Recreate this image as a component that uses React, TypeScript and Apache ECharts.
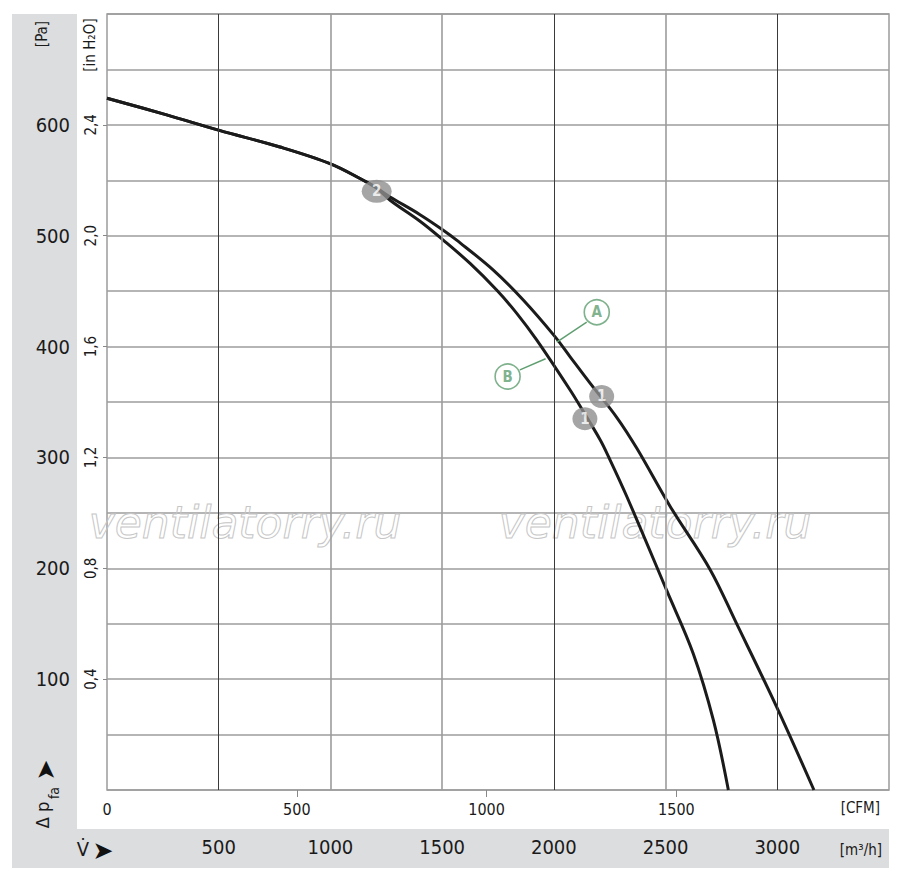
import { useEffect, useRef } from "react";
import * as echarts from "echarts";

const FONT = "'Liberation Sans Narrow','Arial Narrow','DejaVu Sans Condensed','Liberation Sans',Arial,sans-serif";
const GREEN = "#5f9e70";
const GRID_GRAY = "#9c9c9c";
const TEXT = "#1a1a1a";

// Axis ranges (x in m3/h, y in Pa)
const flowMaxM3h = 3500;
const cfmPerM3h = 1 / 1.699;
const paMax = 700;
const inH2OMax = 2.8;

// Tick labels
const m3hLabels = [500, 1000, 1500, 2000, 2500, 3000];
const cfmLabels = [0, 500, 1000, 1500];
const cfmTicks = [500, 1000, 1500];
const paLabels = [100, 200, 300, 400, 500, 600];
const inH2OLabels = [0.4, 0.8, 1.2, 1.6, 2.0, 2.4];

// Vertical grid lines (m3/h)
const darkGridLines = [500, 2000, 3000];
const lightGridLines = [1000, 1500, 2500];

// Curves [m3/h, Pa]
const commonCurve = [
  [0, 624], [267, 609], [503, 595], [774, 580], [998, 565], [1147, 550], [1207, 543],
];
const curveA = [
  [1267, 535], [1401, 519], [1505, 505], [1565, 496], [1729, 469], [1863, 442],
  [2005, 409], [2072, 391], [2162, 367], [2282, 336], [2372, 308], [2520, 256],
  [2699, 199], [2818, 150], [2997, 75], [3164, 0],
];
const curveB = [
  [1267, 532], [1401, 513], [1505, 496], [1625, 475], [1744, 451], [1834, 430],
  [1923, 406], [2072, 361], [2130, 342], [2207, 316], [2244, 301], [2326, 265],
  [2505, 180], [2624, 123], [2714, 63], [2781, 0],
];

// Operating point markers
const pointNames = ["2", "1", "1"];
const pointValues = [[1207, 540], [2214, 355], [2139, 335]];

// Curve tags A / B
const tagNames = ["A", "B"];
const tagValues = [[2192, 431], [1793, 373]];
const tagLeaders = [
  [[2147, 422], [2013, 404]],
  [[1848, 379], [1963, 389]],
];

export default function App() {
  const ref = useRef<HTMLDivElement>(null);

  useEffect(() => {
    if (!ref.current) return;
    const chart = echarts.init(ref.current, null, { renderer: "svg" });

    const rot = Math.PI / 2;
    const option: any = {
      animation: false,
      backgroundColor: "#ffffff",
      grid: {
        left: 107,
        top: 14,
        width: 782,
        height: 776,
        show: true,
        borderColor: GRID_GRAY,
        borderWidth: 1.5,
        backgroundColor: "transparent",
      },
      xAxis: [
        {
          type: "value",
          min: 0,
          max: flowMaxM3h,
          interval: 500,
          position: "bottom",
          axisLine: { show: false },
          axisTick: { show: false },
          splitLine: { show: false },
          axisLabel: {
            margin: 47,
            fontSize: 20,
            color: TEXT,
            fontFamily: FONT,
            customValues: m3hLabels,
            formatter: (v: number) => (m3hLabels.includes(v) ? String(v) : ""),
          },
        },
        {
          type: "value",
          min: 0,
          max: flowMaxM3h * cfmPerM3h,
          interval: 500,
          position: "bottom",
          axisLine: { show: false },
          axisTick: {
            show: true,
            length: 7,
            customValues: cfmTicks,
            lineStyle: { color: "#888", width: 1 },
          },
          splitLine: { show: false },
          axisLabel: {
            margin: 11,
            fontSize: 16,
            color: TEXT,
            fontFamily: FONT,
            customValues: cfmLabels,
            formatter: (v: number) => (cfmLabels.includes(v) ? String(v) : ""),
          },
        },
      ],
      yAxis: [
        {
          type: "value",
          min: 0,
          max: paMax,
          interval: 50,
          position: "left",
          axisLine: { show: false },
          axisTick: { show: false },
          splitLine: { show: true, lineStyle: { color: GRID_GRAY, width: 1.6 } },
          axisLabel: {
            margin: 37,
            fontSize: 20,
            color: TEXT,
            fontFamily: FONT,
            padding: [5, 0, 0, 0],
            formatter: (v: number) => (paLabels.includes(v) ? String(v) : ""),
          },
        },
        {
          type: "value",
          min: 0,
          max: inH2OMax,
          interval: 0.4,
          position: "left",
          axisLine: { show: false },
          axisTick: {
            show: true,
            length: 4,
            customValues: inH2OLabels,
            lineStyle: { color: "#888", width: 1 },
          },
          splitLine: { show: false },
          axisLabel: {
            rotate: 90,
            margin: 9,
            fontSize: 15,
            color: TEXT,
            fontFamily: FONT,
            customValues: inH2OLabels,
            formatter: (v: number) => {
              const s = v.toFixed(1);
              return inH2OLabels.some((t) => t.toFixed(1) === s) ? s.replace(".", ",") : "";
            },
          },
        },
      ],
      graphic: [
        { type: "rect", z: 0, shape: { x: 12, y: 14, width: 65, height: 815 }, style: { fill: "#dcdddf" } },
        { type: "rect", z: 0, shape: { x: 12, y: 829, width: 877, height: 39 }, style: { fill: "#dcdddf" } },
        {
          type: "text", x: 245, y: 522, z: 1,
          style: { text: "ventilatorry.ru", font: "italic 44px 'DejaVu Sans'", fill: "none", stroke: "#c6c6c6", lineWidth: 1, textAlign: "center", textVerticalAlign: "middle" },
        },
        {
          type: "text", x: 655, y: 522, z: 1,
          style: { text: "ventilatorry.ru", font: "italic 44px 'DejaVu Sans'", fill: "none", stroke: "#c6c6c6", lineWidth: 1, textAlign: "center", textVerticalAlign: "middle" },
        },
        {
          type: "text", x: 42, y: 34, rotation: rot, z: 5,
          style: { text: "[Pa]", font: `15px ${FONT}`, fill: TEXT, textAlign: "center", textVerticalAlign: "middle" },
        },
        {
          type: "text", x: 90, y: 45, rotation: rot, z: 5,
          style: { text: "[in H₂O]", font: `15px ${FONT}`, fill: TEXT, textAlign: "center", textVerticalAlign: "middle" },
        },
        {
          type: "text", x: 42, y: 815, rotation: rot, z: 5,
          style: { text: "Δ p", font: `18px ${FONT}`, fill: TEXT, textAlign: "center", textVerticalAlign: "middle" },
        },
        {
          type: "text", x: 54, y: 793, rotation: rot, z: 5,
          style: { text: "fa", font: `14px ${FONT}`, fill: TEXT, textAlign: "center", textVerticalAlign: "middle" },
        },
        {
          type: "text", x: 45, y: 770, rotation: rot, z: 5,
          style: { text: "➤", font: "25px 'DejaVu Sans'", fill: "#111", textAlign: "center", textVerticalAlign: "middle" },
        },
        {
          type: "text", x: 83, y: 849, z: 5,
          style: { text: "V̇", font: `20px ${FONT}`, fill: TEXT, textAlign: "center", textVerticalAlign: "middle" },
        },
        {
          type: "text", x: 103, y: 850, z: 5,
          style: { text: "➤", font: "25px 'DejaVu Sans'", fill: "#111", textAlign: "center", textVerticalAlign: "middle" },
        },
        {
          type: "text", x: 880, y: 808, z: 5,
          style: { text: "[CFM]", font: `15px ${FONT}`, fill: TEXT, textAlign: "right", textVerticalAlign: "middle" },
        },
        {
          type: "text", x: 882, y: 850, z: 5,
          style: { text: "[m³/h]", font: `15px ${FONT}`, fill: TEXT, textAlign: "right", textVerticalAlign: "middle" },
        },
      ],
      series: [
        {
          type: "line",
          data: [],
          xAxisIndex: 0,
          yAxisIndex: 0,
          z: 1,
          silent: true,
          markLine: {
            silent: true,
            symbol: ["none", "none"],
            label: { show: false },
            data: [
              ...darkGridLines.map((v) => ({ xAxis: v, lineStyle: { color: "#3a3a3a", width: 1, type: "solid" } })),
              ...lightGridLines.map((v) => ({ xAxis: v, lineStyle: { color: GRID_GRAY, width: 1.6, type: "solid" } })),
            ],
          },
        },
        {
          type: "line",
          name: "A",
          xAxisIndex: 0,
          yAxisIndex: 0,
          data: commonCurve.concat(curveA),
          smooth: 0.35,
          symbol: "none",
          lineStyle: { color: "#1b1b1b", width: 3 },
          z: 3,
        },
        {
          type: "line",
          name: "B",
          xAxisIndex: 0,
          yAxisIndex: 0,
          data: commonCurve.concat(curveB),
          smooth: 0.35,
          symbol: "none",
          lineStyle: { color: "#1b1b1b", width: 3 },
          z: 3,
        },
        {
          type: "scatter",
          xAxisIndex: 0,
          yAxisIndex: 0,
          z: 5,
          symbol: "circle",
          data: pointNames.map((n, i) => ({
            name: n,
            value: pointValues[i],
            symbolSize: n === "2" ? [30, 23] : [25, 23],
          })),
          itemStyle: { color: "#8e8e8e" },
          label: {
            show: true,
            position: "inside",
            formatter: "{b}",
            color: "#fff",
            fontWeight: "bold",
            fontSize: 15,
            fontFamily: FONT,
          },
        },
        {
          type: "scatter",
          xAxisIndex: 0,
          yAxisIndex: 0,
          z: 5,
          symbol: "circle",
          symbolSize: 25,
          data: tagNames.map((n, i) => ({ name: n, value: tagValues[i] })),
          itemStyle: { color: "#fff", borderColor: GREEN, borderWidth: 1.6 },
          label: {
            show: true,
            position: "inside",
            formatter: "{b}",
            color: GREEN,
            fontWeight: "bold",
            fontSize: 15,
            fontFamily: FONT,
          },
          markLine: {
            silent: true,
            symbol: ["none", "none"],
            label: { show: false },
            lineStyle: { color: GREEN, width: 1.5, type: "solid" },
            data: tagLeaders.map(([a, b]) => [{ coord: a }, { coord: b }]),
          },
        },
      ],
    };

    chart.setOption(option);
    return () => chart.dispose();
  }, []);

  return (
    <div
      ref={ref}
      style={{ position: "fixed", left: 0, top: 0, width: 900, height: 882, background: "#fff" }}
    />
  );
}
